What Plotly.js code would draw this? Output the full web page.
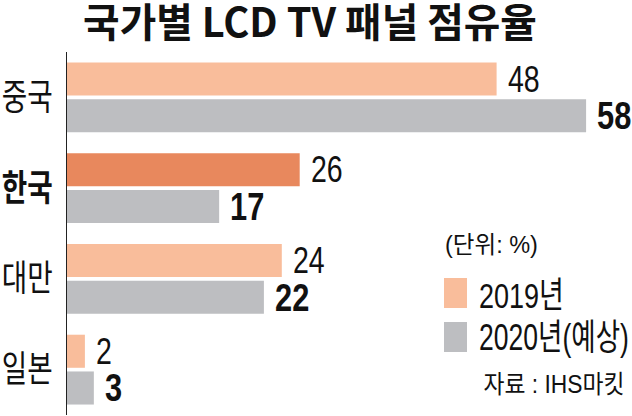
<!DOCTYPE html>
<html>
<head>
<meta charset="utf-8">
<script src="https://cdn.plot.ly/plotly-3.0.1.min.js"></script>
<style>html,body{margin:0;padding:0;background:#fff;}#chart{width:632px;height:416px;}</style>
</head>
<body>
<div id="chart"></div>
<script>
const categories = ['중국', '한국', '대만', '일본'];
const tickLabels = ['중국', '<b>한국</b>', '대만', '일본'];
const values2019 = [48, 26, 24, 2];
const values2020 = [58, 17, 22, 3];
const seriesNames = ['2019년', '2020년(예상)'];
const unitLabel = '(단위: %)';
const sourceLabel = '자료 : IHS마킷';
const titleText = '국가별 LCD TV 패널 점유율';

const W = 632, H = 416, ML = 67, MR = 0, MT = 52, MB = 1;
const PW = W - ML - MR, PH = H - MT - MB;
const px = x => (x - ML) / PW;
const py = y => (H - MB - y) / PH;

const cLight = '#F9BD9B';
const cDark = '#E8885D';
const cGray = '#BDBEC1';
const numFont = '"Liberation Sans", Arial, "Noto Sans CJK KR", sans-serif';
const krFont = '"Noto Sans CJK KR", sans-serif';

const colors2019 = categories.map(c => c === '한국' ? cDark : cLight);

const traces = [
  {type: 'bar', orientation: 'h', name: seriesNames[0], y: categories, x: values2019,
   marker: {color: colors2019}, hoverinfo: 'none'},
  {type: 'bar', orientation: 'h', name: seriesNames[1], y: categories, x: values2020,
   marker: {color: cGray}, hoverinfo: 'none'}
];

const annotations = [];
const squeeze = [];
categories.forEach((c, i) => {
  annotations.push({x: values2019[i], y: c, xref: 'x', yref: 'y', text: String(values2019[i]),
    showarrow: false, xanchor: 'left', yanchor: 'middle', xshift: 9, yshift: 18.3,
    font: {family: numFont, size: 37, color: '#111'}});
  squeeze.push({sx: 0.77, anchor: 'left'});
  annotations.push({x: values2020[i], y: c, xref: 'x', yref: 'y', text: '<b>' + values2020[i] + '</b>',
    showarrow: false, xanchor: 'left', yanchor: 'middle', xshift: 9, yshift: -18.3,
    font: {family: numFont, size: 39, color: '#111'}});
  squeeze.push({sx: 0.79, anchor: 'left'});
});
annotations.push({x: px(443), y: py(245), xref: 'paper', yref: 'paper', text: unitLabel,
  showarrow: false, xanchor: 'left', yanchor: 'middle', font: {family: numFont, size: 24, color: '#111'}});
squeeze.push({w: 93, anchor: 'left'});
annotations.push({x: px(477), y: py(295), xref: 'paper', yref: 'paper', text: seriesNames[0],
  showarrow: false, xanchor: 'left', yanchor: 'middle', font: {family: numFont, size: 36, color: '#111'}});
squeeze.push({w: 85, anchor: 'left'});
annotations.push({x: px(477), y: py(337), xref: 'paper', yref: 'paper', text: seriesNames[1],
  showarrow: false, xanchor: 'left', yanchor: 'middle', font: {family: numFont, size: 36, color: '#111'}});
squeeze.push({w: 150, anchor: 'left'});
annotations.push({x: px(627), y: py(384), xref: 'paper', yref: 'paper', text: sourceLabel,
  showarrow: false, xanchor: 'right', yanchor: 'middle', font: {family: numFont, size: 25, color: '#111'}});
squeeze.push({w: 141, anchor: 'right'});

const shapes = [
  {type: 'rect', xref: 'paper', yref: 'paper', x0: px(444), x1: px(467), y0: py(308), y1: py(278),
   fillcolor: cLight, line: {width: 0}},
  {type: 'rect', xref: 'paper', yref: 'paper', x0: px(444), x1: px(467), y0: py(352), y1: py(322),
   fillcolor: cGray, line: {width: 0}}
];

const layout = {
  width: W, height: H,
  margin: {l: ML, r: MR, t: MT, b: MB, pad: 0},
  paper_bgcolor: '#fff', plot_bgcolor: '#fff',
  showlegend: false,
  barmode: 'group', bargap: 0.19, bargroupgap: 0.1,
  title: {text: '<b>' + titleText + '</b>', x: 310 / W, xanchor: 'center', xref: 'container',
          y: 1 - 23 / H, yanchor: 'middle', yref: 'container',
          font: {family: krFont, size: 40, color: '#111'}},
  xaxis: {range: [0, PW / 8.95], showgrid: false, zeroline: false, showticklabels: false,
          showline: false, ticks: '', fixedrange: true},
  yaxis: {type: 'category', categoryarray: categories, tickvals: categories, ticktext: tickLabels,
          range: [3.5, -0.5], showgrid: false, zeroline: false, showline: true,
          linecolor: '#222', linewidth: 1, ticks: '', ticklabelstandoff: 6,
          tickfont: {family: krFont, size: 36, color: '#111'}, fixedrange: true},
  annotations: annotations,
  shapes: shapes
};

function condense(el, opt) {
  if (!el || el.getAttribute('data-cond')) return;
  const bb = el.getBBox();
  if (!bb.width) return;
  const sx = opt.sx !== undefined ? opt.sx : opt.w / bb.width;
  const cx = opt.anchor === 'left' ? bb.x : (opt.anchor === 'right' ? bb.x + bb.width : bb.x + bb.width / 2);
  const t = el.getAttribute('transform') || '';
  el.setAttribute('transform', t + ' translate(' + cx + ',0) scale(' + sx + ',1) translate(' + (-cx) + ',0)');
  el.setAttribute('data-cond', '1');
}

function applyAll(gd) {
  gd.querySelectorAll('g.ytick text').forEach(t => condense(t, {w: 51, anchor: 'right'}));
  condense(gd.querySelector('text.gtitle'), {w: 454, anchor: 'middle'});
  gd.querySelectorAll('g.annotation').forEach(g => {
    const idx = +g.getAttribute('data-index');
    const t = g.querySelector('text.annotation-text');
    if (squeeze[idx]) condense(t, squeeze[idx]);
  });
}

Plotly.newPlot('chart', traces, layout, {staticPlot: true, displayModeBar: false}).then(gd => {
  applyAll(gd);
  setTimeout(() => applyAll(gd), 200);
});
</script>
</body>
</html>
